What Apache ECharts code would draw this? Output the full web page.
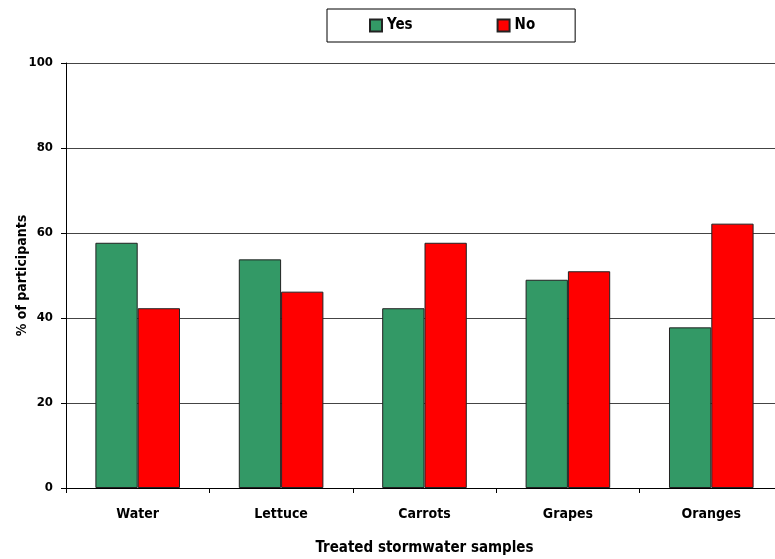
<!DOCTYPE html>
<html>
<head>
<meta charset="utf-8">
<script src="https://cdn.jsdelivr.net/npm/echarts@6/dist/echarts.min.js"></script>
<style>
  html, body { margin: 0; padding: 0; background: #fff; }
  #chart { width: 775px; height: 559px; }
</style>
</head>
<body>
<div id="chart"></div>
<script>
// values
const categories = ['Water', 'Lettuce', 'Carrots', 'Grapes', 'Oranges']
const yesValues = [57.7, 53.8, 42.3, 49.0, 37.8]
const noValues = [42.3, 46.2, 57.7, 51.0, 62.2]
const yTicks = [0, 20, 40, 60, 80, 100]

const font = "'Liberation Sans Narrow', 'DejaVu Sans Condensed', 'Arial Narrow', sans-serif"

const chart = echarts.init(document.getElementById('chart'))

chart.setOption({
  backgroundColor: '#fff',
  animation: false,
  textStyle: { fontFamily: font, color: '#000' },
  legend: {
    left: 327,
    top: 9,
    padding: [9, 40, 9, 42],
    itemGap: 84,
    itemWidth: 12,
    itemHeight: 12,
    icon: 'rect',
    borderColor: '#000',
    borderWidth: 1,
    textStyle: { fontFamily: font, fontSize: 15, fontWeight: 'bold', color: '#000' },
    data: ['Yes', 'No']
  },
  // the plot runs past the right edge of the picture, as in the reference
  grid: { left: 66, right: -8, top: 63, bottom: 71, containLabel: false, outerBoundsMode: 'none' },
  xAxis: {
    type: 'category',
    data: categories,
    name: 'Treated stormwater samples',
    nameLocation: 'middle',
    nameGap: 53,
    nameMoveOverlap: false,
    nameTextStyle: { fontFamily: font, fontSize: 15, fontWeight: 'bold', color: '#000' },
    axisLine: { lineStyle: { color: '#000', width: 1 } },
    axisTick: { show: true, alignWithLabel: false, length: 5, lineStyle: { color: '#000' } },
    axisLabel: { margin: 19, fontFamily: font, fontSize: 14, fontWeight: 'bold', color: '#000' }
  },
  yAxis: {
    type: 'value',
    min: yTicks[0],
    max: yTicks[yTicks.length - 1],
    interval: 20,
    name: '% of participants',
    nameLocation: 'middle',
    nameGap: 37,
    nameMoveOverlap: false,
    nameTextStyle: { fontFamily: font, fontSize: 14, fontWeight: 'bold', color: '#000' },
    axisLine: { show: true, lineStyle: { color: '#000', width: 1 } },
    axisTick: { show: true, length: 5, lineStyle: { color: '#000' } },
    axisLabel: { margin: 13, fontFamily: font, fontSize: 13, fontWeight: 'bold', color: '#000' },
    splitLine: { show: true, lineStyle: { color: '#444', width: 1 } }
  },
  series: [
    {
      name: 'Yes',
      type: 'bar',
      data: yesValues,
      barGap: '0%',
      barCategoryGap: '41%',
      itemStyle: { color: '#339966', borderColor: '#222', borderWidth: 1 }
    },
    {
      name: 'No',
      type: 'bar',
      data: noValues,
      itemStyle: { color: '#ff0000', borderColor: '#222', borderWidth: 1 }
    }
  ]
})
</script>
</body>
</html>
